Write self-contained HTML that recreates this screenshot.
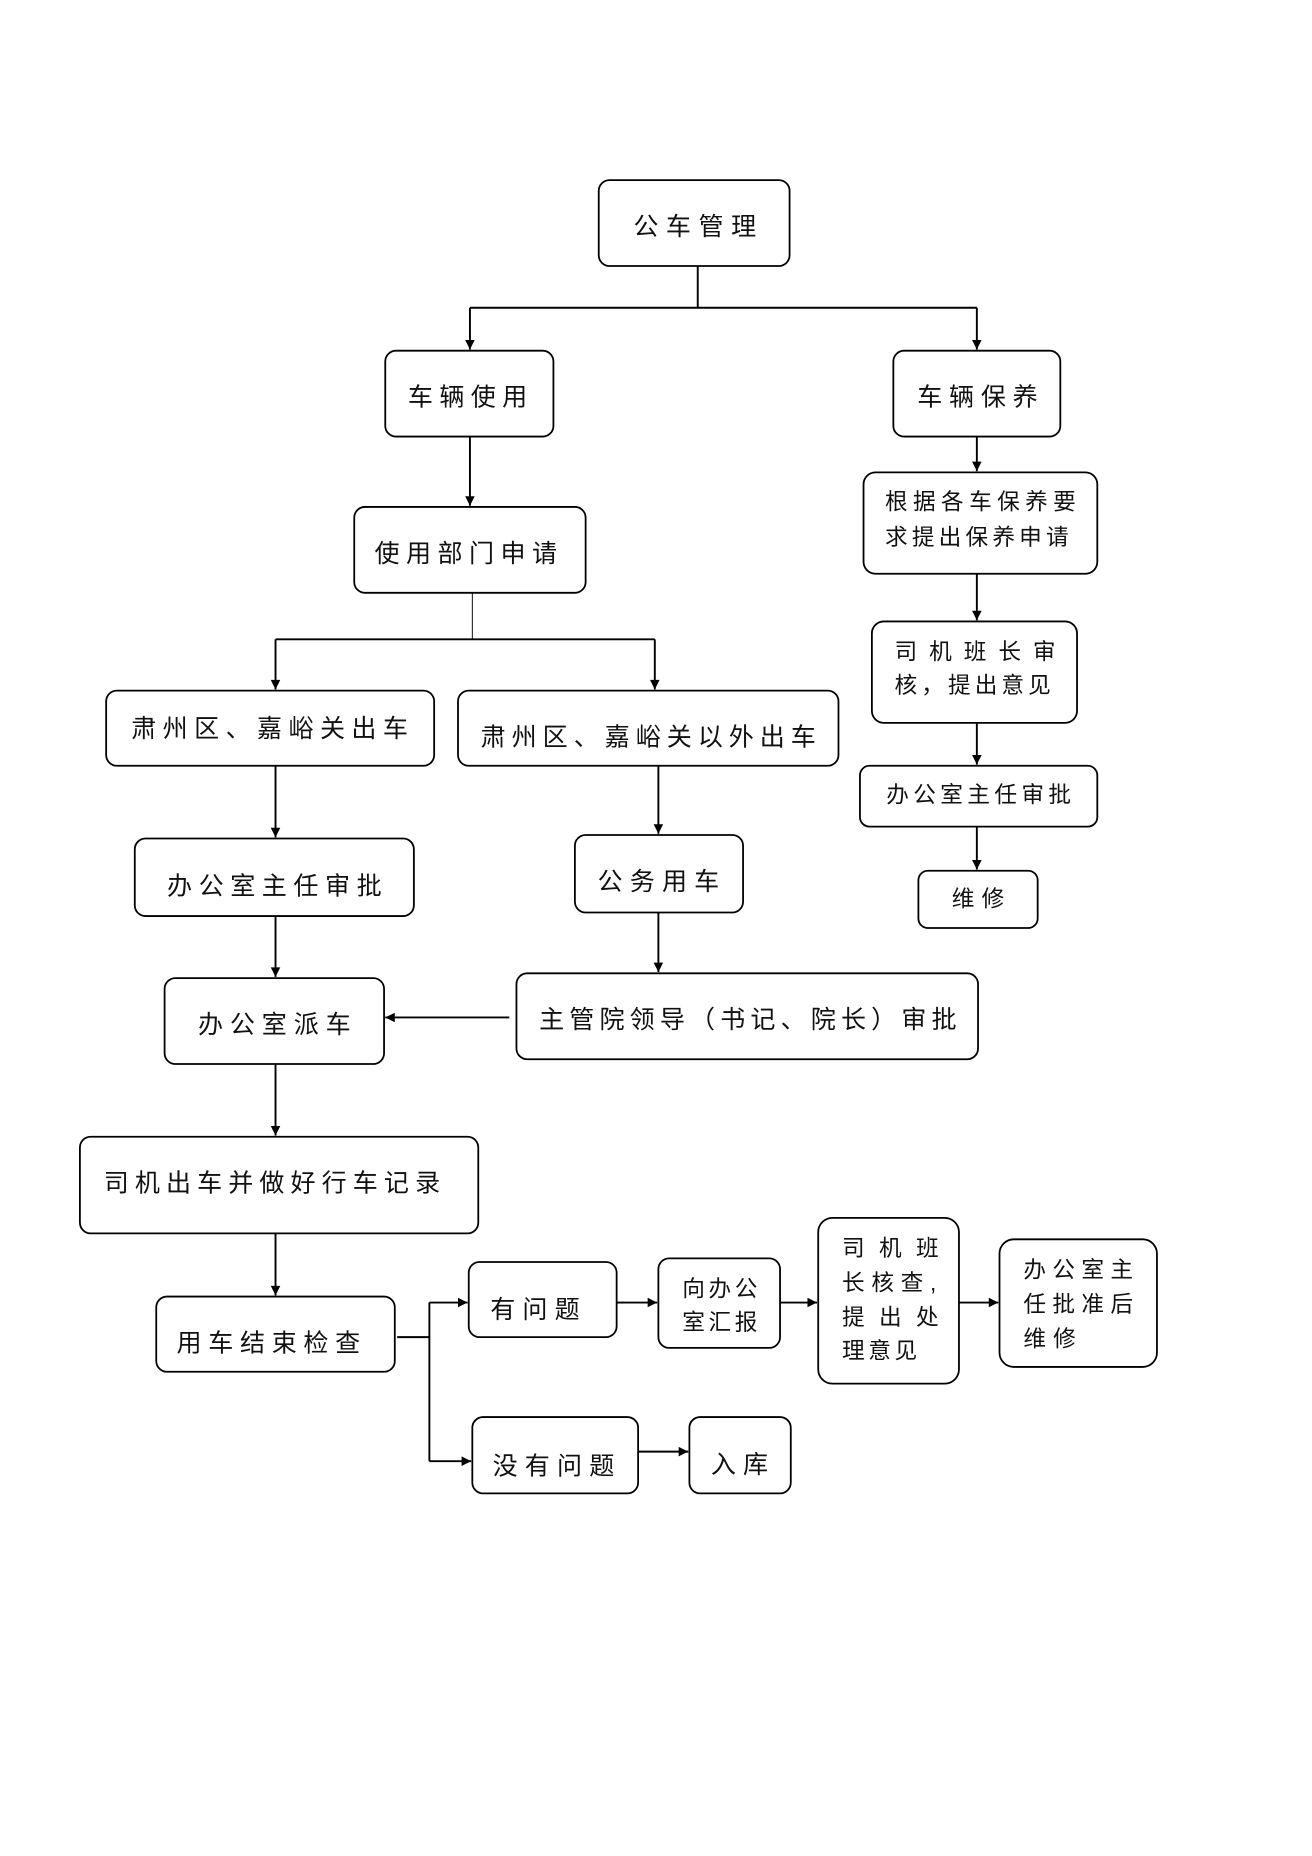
<!DOCTYPE html>
<html><head><meta charset="utf-8"><style>
html,body{margin:0;padding:0;background:#fff;}
svg{display:block;}
text{font-family:"Liberation Sans","Noto Sans CJK SC",sans-serif;fill:#111;}
</style></head><body>
<svg width="1312" height="1856" viewBox="0 0 1100 1556" preserveAspectRatio="none" xmlns="http://www.w3.org/2000/svg">
<defs>
<marker id="a" viewBox="0 0 10 10" refX="10" refY="5" markerWidth="9" markerHeight="8" markerUnits="userSpaceOnUse" orient="auto"><path d="M0,0 L10,5 L0,10 z" fill="#000"/></marker>
</defs>
<g fill="#fff" stroke="#000" stroke-width="1.5">
<rect x="502" y="151" width="160" height="72" rx="9"/>
<rect x="323" y="294" width="141" height="72" rx="9"/>
<rect x="749" y="294" width="140" height="72" rx="9"/>
<rect x="297" y="425" width="194" height="72" rx="9"/>
<rect x="89" y="579" width="275" height="63" rx="9"/>
<rect x="384" y="579" width="319" height="63" rx="9"/>
<rect x="113" y="703" width="234" height="65" rx="9"/>
<rect x="482" y="700" width="141" height="65" rx="9"/>
<rect x="138" y="820" width="184" height="72" rx="9"/>
<rect x="433" y="816" width="387" height="72" rx="9"/>
<rect x="67" y="953" width="334" height="81" rx="9"/>
<rect x="131" y="1087" width="200" height="63" rx="9"/>
<rect x="393" y="1058" width="124" height="63" rx="9"/>
<rect x="552" y="1055" width="102" height="75" rx="9"/>
<rect x="686" y="1021" width="118" height="139" rx="12"/>
<rect x="838" y="1039" width="132" height="107" rx="12"/>
<rect x="396" y="1188" width="139" height="64" rx="9"/>
<rect x="578" y="1188" width="85" height="64" rx="9"/>
<rect x="724" y="396" width="196" height="85" rx="10"/>
<rect x="731" y="521" width="172" height="85" rx="10"/>
<rect x="721" y="642" width="199" height="51" rx="8"/>
<rect x="770" y="730" width="100" height="48" rx="8"/>
</g>
<g stroke="#000" stroke-width="1.6" fill="none">
<path d="M585,223 V258"/>
<path d="M394,258 H819"/>
<path d="M394,258 V293" marker-end="url(#a)"/>
<path d="M819,258 V293" marker-end="url(#a)"/>
<path d="M394,366 V424" marker-end="url(#a)"/>
<path d="M396,497 V536" stroke-width="0.8"/>
<path d="M231,536 H549"/>
<path d="M231,536 V578" marker-end="url(#a)"/>
<path d="M549,536 V578" marker-end="url(#a)"/>
<path d="M231,642 V702" marker-end="url(#a)"/>
<path d="M231,768 V819" marker-end="url(#a)"/>
<path d="M552,642 V699" marker-end="url(#a)"/>
<path d="M552,765 V815" marker-end="url(#a)"/>
<path d="M427,853 H323" marker-end="url(#a)"/>
<path d="M231,892 V952" marker-end="url(#a)"/>
<path d="M231,1034 V1086" marker-end="url(#a)"/>
<path d="M333,1121 H360"/>
<path d="M360,1092 V1225"/>
<path d="M360,1092 H392" marker-end="url(#a)"/>
<path d="M360,1225 H395" marker-end="url(#a)"/>
<path d="M517,1092 H551" marker-end="url(#a)"/>
<path d="M654,1092 H685" marker-end="url(#a)"/>
<path d="M804,1092 H837" marker-end="url(#a)"/>
<path d="M535,1217 H577" marker-end="url(#a)"/>
<path d="M819,366 V395" marker-end="url(#a)"/>
<path d="M819,481 V520" marker-end="url(#a)"/>
<path d="M819,606 V641" marker-end="url(#a)"/>
<path d="M819,693 V729" marker-end="url(#a)"/>
</g>
<g font-size="21">
<text x="531" y="197" textLength="103" lengthAdjust="spacing">公车管理</text>
<text x="342" y="340" textLength="100" lengthAdjust="spacing">车辆使用</text>
<text x="769" y="340" textLength="101" lengthAdjust="spacing">车辆保养</text>
<text x="314" y="471" textLength="153" lengthAdjust="spacing">使用部门申请</text>
<text x="110" y="618" textLength="232" lengthAdjust="spacing">肃州区、嘉峪关出车</text>
<text x="403" y="625" textLength="281" lengthAdjust="spacing">肃州区、嘉峪关以外出车</text>
<text x="140" y="750" textLength="180" lengthAdjust="spacing">办公室主任审批</text>
<text x="501" y="746" textLength="102" lengthAdjust="spacing">公务用车</text>
<text x="166" y="866" textLength="128" lengthAdjust="spacing">办公室派车</text>
<text x="452" y="862" textLength="350" lengthAdjust="spacing">主管院领导（书记、院长）审批</text>
<text x="87" y="999" textLength="282" lengthAdjust="spacing">司机出车并做好行车记录</text>
<text x="148" y="1133" textLength="154" lengthAdjust="spacing">用车结束检查</text>
<text x="411" y="1105" textLength="75" lengthAdjust="spacing">有问题</text>
<text x="413" y="1236" textLength="102" lengthAdjust="spacing">没有问题</text>
<text x="596" y="1235" textLength="48" lengthAdjust="spacing">入库</text>
</g>
<g font-size="19">
<text x="742" y="427" textLength="160" lengthAdjust="spacing">根据各车保养要</text>
<text x="742" y="457" textLength="154" lengthAdjust="spacing">求提出保养申请</text>
<text x="750" y="553" textLength="135" lengthAdjust="spacing">司 机 班 长 审</text>
<text x="750" y="581" textLength="131" lengthAdjust="spacing">核，提出意见</text>
<text x="743" y="673" textLength="155" lengthAdjust="spacing">办公室主任审批</text>
<text x="798" y="760" textLength="44" lengthAdjust="spacing">维修</text>
<text x="572" y="1087" textLength="63" lengthAdjust="spacing">向办公</text>
<text x="572" y="1115" textLength="63" lengthAdjust="spacing">室汇报</text>
<text x="706" y="1053" textLength="81" lengthAdjust="spacing">司 机 班</text>
<text x="706" y="1082" textLength="79" lengthAdjust="spacing">长核查,</text>
<text x="706" y="1111" textLength="81" lengthAdjust="spacing">提 出 处</text>
<text x="706" y="1139" textLength="63" lengthAdjust="spacing">理意见</text>
<text x="858" y="1071" textLength="92" lengthAdjust="spacing">办公室主</text>
<text x="858" y="1100" textLength="92" lengthAdjust="spacing">任批准后</text>
<text x="858" y="1129" textLength="44" lengthAdjust="spacing">维修</text>
</g>
</svg>
</body></html>
